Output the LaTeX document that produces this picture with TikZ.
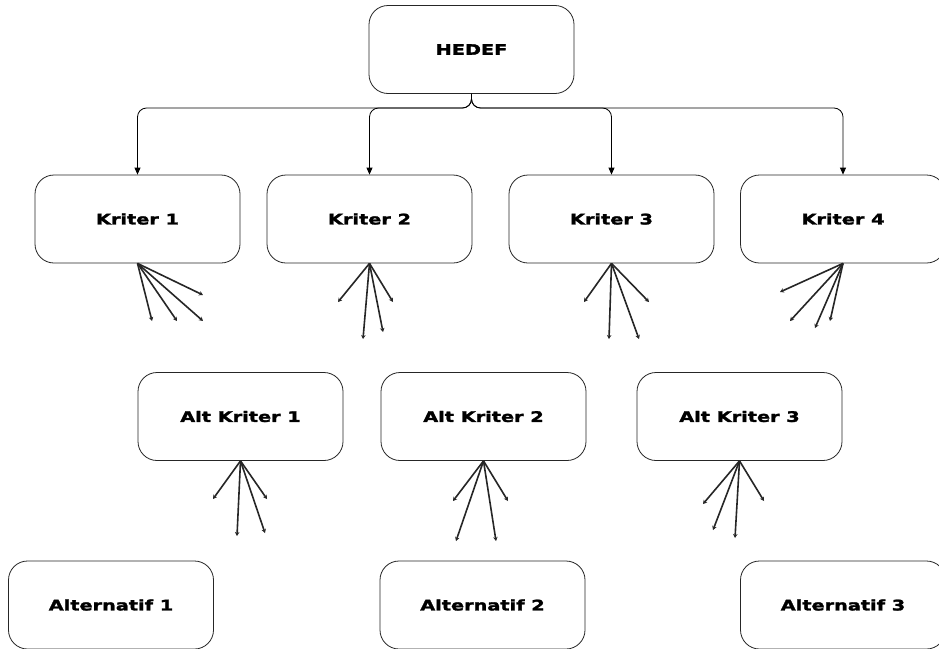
\documentclass[tikz,border=0pt]{standalone}
\usepackage{fontspec}
\setmainfont{DejaVu Sans}[FakeStretch=1.33,BoldFeatures={FakeBold=2}]
\usetikzlibrary{arrows.meta,calc}
\begin{document}
\begin{tikzpicture}[x=1pt,y=-1pt,
  box/.style={draw=black!85,line width=0.8pt,rounded corners=19pt,minimum width=205pt,minimum height=88pt,inner sep=0pt,font=\fontsize{14.5}{17}\selectfont\bfseries},
  conn/.style={draw=black,line width=0.8pt,rounded corners=9pt,-{Triangle[length=7pt,width=6pt]}},
  fan/.style={draw=black!85,line width=1.6pt,-{Stealth[length=4pt,width=4.5pt]}}]
\useasboundingbox (0,0) rectangle (939,648);
\fill[white] (0,0) rectangle (939,648);
% nodes
\node[box] (hedef) at (471.5,49.5) {HEDEF};
\node[box] (k1) at (137.5,219) {Kriter 1};
\node[box] (k2) at (369.5,219) {Kriter 2};
\node[box] (k3) at (611.5,219) {Kriter 3};
\node[box] (k4) at (843,219) {Kriter 4};
\node[box] (a1) at (240.5,416.5) {Alt Kriter 1};
\node[box] (a2) at (483.5,416.5) {Alt Kriter 2};
\node[box] (a3) at (739.5,416.5) {Alt Kriter 3};
\node[box] (l1) at (111,605) {Alternatif 1};
\node[box] (l2) at (482.5,605) {Alternatif 2};
\node[box] (l3) at (843,605) {Alternatif 3};
% top connectors
\coordinate (bus) at (470,108);
\foreach \k in {k1,k2,k3,k4}
  \draw[conn] (hedef.south) |- (\k.north |- bus) -- (\k.north);
% fan end points
\foreach \n/\ex/\ey in {
  f11/152/321, f12/177/321, f13/203/321, f14/203/295,
  f21/338/302, f22/363/339, f23/383/332, f24/393/302,
  f31/584/302, f32/609/339, f33/639/339, f34/649/302,
  f41/780/292, f42/790/321, f43/815/328, f44/830/321,
  g11/213/499, g12/237/536, g13/265/533, g14/267/499,
  g21/453/501, g22/456/541, g23/496/541, g24/508/501,
  g31/703/504, g32/713/530, g33/735/538, g34/764/501}
  \coordinate (\n) at (\ex,\ey);
\foreach \s/\n in {
  k1/f11, k1/f12, k1/f13, k1/f14,
  k2/f21, k2/f22, k2/f23, k2/f24,
  k3/f31, k3/f32, k3/f33, k3/f34,
  k4/f41, k4/f42, k4/f43, k4/f44,
  a1/g11, a1/g12, a1/g13, a1/g14,
  a2/g21, a2/g22, a2/g23, a2/g24,
  a3/g31, a3/g32, a3/g33, a3/g34}
  \draw[fan] (\s.south) -- (\n);
\end{tikzpicture}
\end{document}
